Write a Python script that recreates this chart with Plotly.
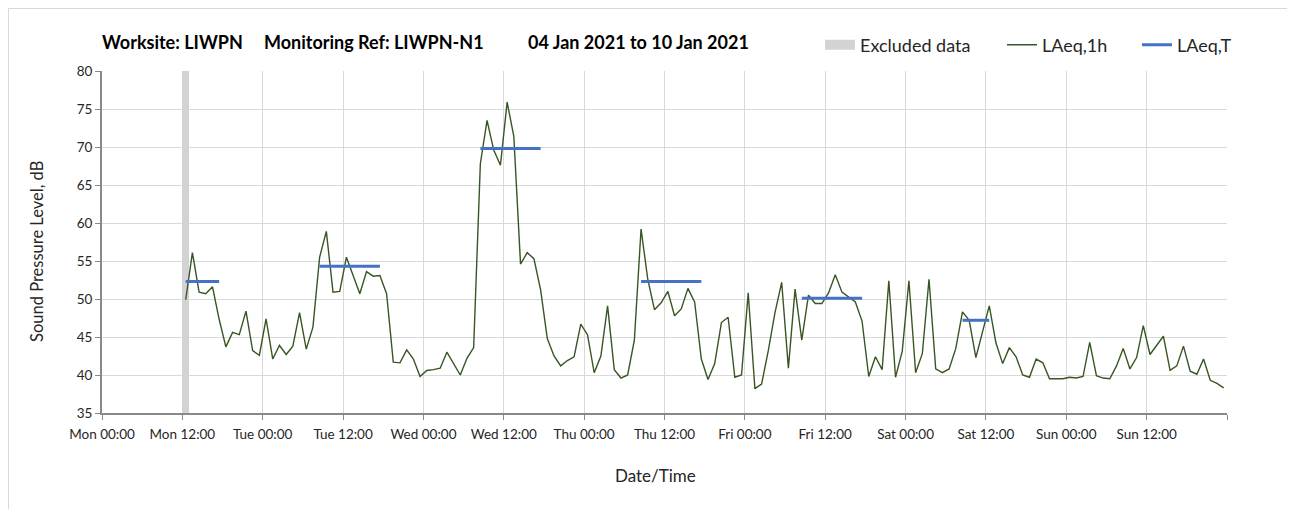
import pandas as pd
import plotly.graph_objects as go

# ── Data ──────────────────────────────────────────────────────
# hourly LAeq,1h values, first hour Mon 04 Jan 2021 12:00 (plotted mid-hour)
laeq_1h = [
    49.9, 56.1, 50.9, 50.7, 51.6, 47.3, 43.7, 45.6, 45.3, 48.4, 43.2, 42.6,
    47.4, 42.1, 43.9, 42.7, 43.8, 48.2, 43.4, 46.3, 55.5, 58.9, 50.9, 51.0,
    55.5, 53.2, 50.7, 53.6, 53.0, 53.1, 50.7, 41.7, 41.6, 43.3, 42.1, 39.8,
    40.6, 40.7, 40.9, 43.0, 41.5, 40.0, 42.2, 43.6, 67.8, 73.5, 69.6, 67.6,
    75.9, 71.4, 54.6, 56.1, 55.3, 51.2, 44.8, 42.5, 41.2, 41.9, 42.4, 46.7,
    45.3, 40.3, 42.5, 49.1, 40.7, 39.6, 40.0, 44.6, 59.2, 52.6, 48.6, 49.5,
    51.0, 47.8, 48.7, 51.4, 49.6, 42.1, 39.4, 41.5, 46.9, 47.6, 39.7, 40.0,
    50.8, 38.2, 38.8, 43.2, 48.2, 52.2, 40.9, 51.3, 44.6, 50.5, 49.4, 49.4,
    50.8, 53.2, 50.9, 50.2, 49.6, 47.1, 39.8, 42.4, 40.7, 52.4, 39.7, 43.1,
    52.4, 40.3, 42.8, 52.6, 40.8, 40.3, 40.8, 43.5, 48.3, 47.2, 42.3, 45.7,
    49.1, 44.2, 41.5, 43.6, 42.4, 40.0, 39.7, 42.1, 41.6, 39.5, 39.5, 39.5,
    39.7, 39.6, 39.8, 44.3, 39.9, 39.6, 39.5, 41.2, 43.5, 40.8, 42.3, 46.5,
    42.7, 43.9, 45.1, 40.6, 41.2, 43.8, 40.5, 40.1, 42.1, 39.3, 38.9, 38.3,
]
times_1h = pd.date_range("2021-01-04 12:30", periods=len(laeq_1h), freq="h")

# LAeq,T periods
period_start = ["2021-01-04 12:30", "2021-01-05 08:30", "2021-01-06 08:30",
                "2021-01-07 08:30", "2021-01-08 08:30", "2021-01-09 08:30"]
period_end = ["2021-01-04 17:30", "2021-01-05 17:30", "2021-01-06 17:30",
              "2021-01-07 17:30", "2021-01-08 17:30", "2021-01-09 12:30"]
laeq_t = [52.3, 54.3, 69.8, 52.3, 50.1, 47.2]

# excluded data (one hour)
excl_start = ["2021-01-04 12:00"]
excl_end = ["2021-01-04 13:00"]

tick_vals = pd.date_range("2021-01-04 00:00", "2021-01-11 00:00", freq="12h")
tick_text = ["Mon 00:00", "Mon 12:00", "Tue 00:00", "Tue 12:00", "Wed 00:00",
             "Wed 12:00", "Thu 00:00", "Thu 12:00", "Fri 00:00", "Fri 12:00",
             "Sat 00:00", "Sat 12:00", "Sun 00:00", "Sun 12:00", ""]

title_parts = ["Worksite: LIWPN", "Monitoring Ref: LIWPN-N1",
               "04 Jan 2021 to 10 Jan 2021"]

Y_MIN, Y_MAX = 35, 80

# ── Palette ───────────────────────────────────────────────────
_GREEN = "#375623"
_BLUE = "#4472C4"
_EXCL = "#D3D3D3"
_GRID = "#D9D9D9"
_AXIS = "#898989"
_TEXT = "#262626"
FONT = "Lato, Open Sans, sans-serif"

# page body adds an 8px offset; work in page pixels
OFF = 8
W, H = 1295 - OFF, 509 - OFF
PL, PR, PT, PB = 102, 1227, 71, 413          # plot area in page pixels
L, T = PL - OFF, PT - OFF
R, B = W - (PR - OFF), H - (PB - OFF)
pw, ph = W - L - R, H - T - B


def px_x(p):
    return (p - PL) / pw


def px_y(p):
    return (PB - p) / ph


fig = go.Figure()

# excluded band as a bar spanning the full y range
for s, e in zip(excl_start, excl_end):
    s, e = pd.Timestamp(s), pd.Timestamp(e)
    fig.add_trace(go.Bar(
        x=[s + (e - s) / 2], y=[Y_MAX - Y_MIN], base=[Y_MIN],
        width=[(e - s).total_seconds() * 1000],
        marker=dict(color=_EXCL, line_width=0),
        showlegend=False, hoverinfo="skip",
    ))
# legend key for the band (wide grey swatch)
fig.add_trace(go.Scatter(
    x=[None], y=[None], mode="lines",
    line=dict(color=_EXCL, width=10),
    name="Excluded data", legend="legend",
))

fig.add_trace(go.Scatter(
    x=times_1h, y=laeq_1h, mode="lines",
    line=dict(color=_GREEN, width=1.4),
    name="LAeq,1h", legend="legend2",
))

xs, ys = [], []
for s, e, v in zip(period_start, period_end, laeq_t):
    xs += [pd.Timestamp(s), pd.Timestamp(e), None]
    ys += [v, v, None]
fig.add_trace(go.Scatter(
    x=xs, y=ys, mode="lines",
    line=dict(color=_BLUE, width=3),
    name="LAeq,T", legend="legend3",
))

# ── Layout ────────────────────────────────────────────────────
_leg = dict(
    xanchor="left", yanchor="middle", y=px_y(45),
    font=dict(size=18, color=_TEXT, family=FONT),
    bgcolor="rgba(0,0,0,0)", itemwidth=30,
)

title_ann = [
    dict(text=f"<b>{t}</b>", xref="paper", yref="paper",
         x=px_x(x0), y=px_y(42), xanchor="left", yanchor="middle",
         showarrow=False, font=dict(size=18, color="#000000", family=FONT))
    for t, x0 in zip(title_parts, [100, 262, 526])
]

fig.update_layout(
    width=W, height=H,
    paper_bgcolor="white", plot_bgcolor="white",
    font=dict(family=FONT, color=_TEXT, size=13),
    margin=dict(l=L, r=R, t=T, b=B),
    bargap=0,
    showlegend=True,
    legend=dict(_leg, x=px_x(820)),
    legend2=dict(_leg, x=px_x(1002)),
    legend3=dict(_leg, x=px_x(1137)),
    xaxis=dict(
        range=[tick_vals[0], tick_vals[-1]],
        tickvals=tick_vals, ticktext=tick_text,
        showgrid=True, gridcolor=_GRID, gridwidth=1,
        showline=True, linecolor=_AXIS, linewidth=2,
        ticks="outside", ticklen=5, tickcolor=_AXIS,
        tickfont=dict(size=13.5, color=_TEXT),
        ticklabelstandoff=3,
        zeroline=False,
    ),
    yaxis=dict(
        range=[Y_MIN, Y_MAX], dtick=5,
        showgrid=True, gridcolor=_GRID, gridwidth=1,
        showline=True, linecolor=_AXIS, linewidth=2,
        ticks="outside", ticklen=5, tickcolor=_AXIS,
        tickfont=dict(size=13.5, color=_TEXT),
        zeroline=False,
    ),
    shapes=[dict(
        type="rect", xref="paper", yref="paper",
        x0=px_x(8.5), x1=px_x(1288), y0=px_y(520), y1=px_y(8.5),
        line=dict(color=_GRID, width=1), fillcolor="rgba(0,0,0,0)",
        layer="below",
    )],
    annotations=title_ann + [
        dict(
            text="Sound Pressure Level, dB", textangle=-90,
            xref="paper", yref="paper", x=px_x(37), y=px_y(252),
            xanchor="center", yanchor="middle", showarrow=False,
            font=dict(size=16.5, color=_TEXT),
        ),
        dict(
            text="Date/Time",
            xref="paper", yref="paper", x=px_x(655), y=px_y(475),
            xanchor="center", yanchor="middle", showarrow=False,
            font=dict(size=17, color=_TEXT),
        ),
    ],
)

fig.write_html("out.html")
